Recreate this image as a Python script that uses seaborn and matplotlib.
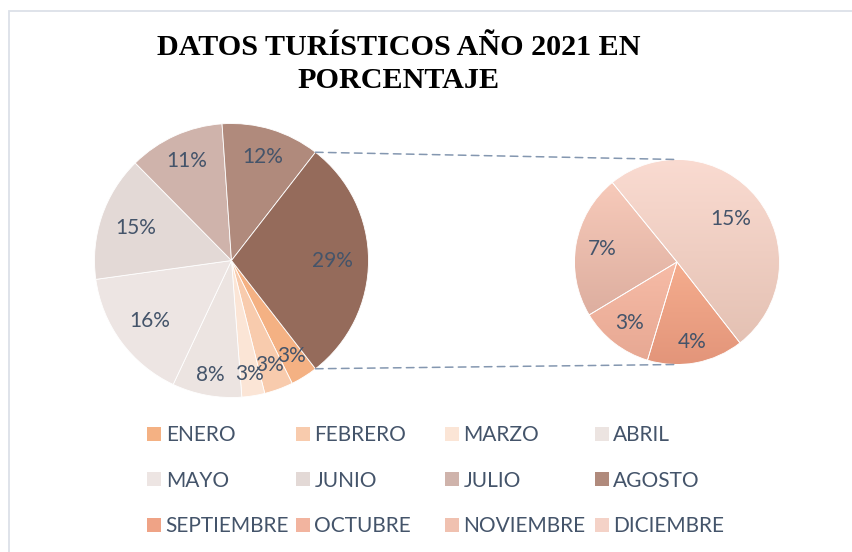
import numpy as np
import matplotlib
matplotlib.use("Agg")
import matplotlib.pyplot as plt
import seaborn as sns
from matplotlib.patches import Patch, Rectangle, ConnectionPatch
from matplotlib.colors import to_rgb

# ---------------- data ----------------
months_main = ["ENERO", "FEBRERO", "MARZO", "ABRIL", "MAYO", "JUNIO", "JULIO", "AGOSTO"]
values_main = [3.2, 3.4, 2.7, 8.2, 15.8, 14.8, 11.3, 11.6]
months_sub = ["SEPTIEMBRE", "OCTUBRE", "NOVIEMBRE", "DICIEMBRE"]
values_sub = [4.4, 3.4, 6.6, 14.6]
title_lines = ["DATOS TURÍSTICOS AÑO 2021 EN", "PORCENTAJE"]

# ---------------- style ----------------
colors_main = ["#F4B183", "#F8CBAD", "#FBE5D6", "#ECE4E1", "#EDE5E3", "#E3D9D6", "#CFB3AB", "#B08A7C"]
color_other = "#956B5B"
grad_sub = [("#F5AD8E", "#E3957A"), ("#F7BCA7", "#E7A893"),
            ("#F7CABA", "#DDAE9F"), ("#FADBD1", "#E4C1B3")]
legend_sub = ["#EFA386", "#F2B49F", "#F0C1B0", "#F4D2C7"]
dist_main = [0.82, 0.81, 0.84, 0.85, 0.74, 0.74, 0.80, 0.79, 0.74]
dist_sub = [0.79, 0.75, 0.74, 0.67]
TXT = "#44546A"

sns.set_theme(style="white")
plt.rcParams["font.family"] = ["Lato", "DejaVu Sans"]

W, H = 852, 552
fig = plt.figure(figsize=(W / 100, H / 100), dpi=100)
fig.patch.set_facecolor("white")

# chart-area border
fig.add_artist(Rectangle((9 / W, -0.1), 1.2, (H - 11) / H + 0.1, transform=fig.transFigure,
                         fill=False, edgecolor="#DCE1E8", lw=1.3))


def pie_axes(cx, cy, r):
    return fig.add_axes([(cx - r) / W, (H - cy - r) / H, 2 * r / W, 2 * r / H])


ax1 = pie_axes(231.5, 260.5, 137)
ax2 = pie_axes(677, 262, 102.5)

other_val = sum(values_sub)
total = sum(values_main) + other_val
start1 = -other_val / total * 180.0

wedges1, _ = ax1.pie(values_main + [other_val], colors=colors_main + [color_other],
                     startangle=start1, counterclock=False, radius=1,
                     wedgeprops=dict(edgecolor="white", linewidth=0.6))
labels1 = [f"{v:.0f}%" for v in values_main] + [f"{other_val:.0f}%"]
for w, lab, d in zip(wedges1, labels1, dist_main):
    a = np.deg2rad((w.theta1 + w.theta2) / 2)
    ax1.text(d * np.cos(a), d * np.sin(a), lab, ha="center", va="center",
             fontsize=15, color=TXT)

start2 = -52.1
wedges2, _ = ax2.pie(values_sub, colors=[g[0] for g in grad_sub], startangle=start2,
                     counterclock=False, radius=1,
                     wedgeprops=dict(edgecolor="white", linewidth=0.6))
for w, (top, bot) in zip(wedges2, grad_sub):
    ext = w.get_path().get_extents()
    t = np.linspace(0, 1, 256)[:, None, None]
    arr = (1 - t) * np.array(to_rgb(top))[None, None, :] + t * np.array(to_rgb(bot))[None, None, :]
    im = ax2.imshow(arr, extent=(ext.x0, ext.x1, ext.y0, ext.y1), origin="upper",
                    aspect="auto", zorder=w.get_zorder() - 0.05, interpolation="bilinear")
    im.set_clip_path(w)
    w.set_facecolor("none")
for w, v, d in zip(wedges2, values_sub, dist_sub):
    a = np.deg2rad((w.theta1 + w.theta2) / 2)
    ax2.text(d * np.cos(a), d * np.sin(a), f"{v:.0f}%", ha="center", va="center",
             fontsize=15, color=TXT)

for ax in (ax1, ax2):
    ax.set_xlim(-1, 1)
    ax.set_ylim(-1, 1)
    ax.set_axis_off()

# connector lines
ang = np.deg2rad(-start1)
for sgn in (1, -1):
    con = ConnectionPatch(xyA=(np.cos(ang), sgn * np.sin(ang)), coordsA=ax1.transData,
                          xyB=(0, sgn * 1.0), coordsB=ax2.transData,
                          color="#8497B0", lw=1.1, linestyle=(0, (5, 3.5)))
    fig.add_artist(con)

# title
fig.text(399 / W, 1 - 64 / H, "\n".join(title_lines), ha="center", va="center",
         fontsize=21.7, fontweight="bold", family=["Liberation Serif", "DejaVu Serif"],
         color="black", linespacing=1.32)

# legend: 4 columns x 3 rows (row-wise order)
all_labels = months_main + months_sub
all_colors = colors_main + legend_sub
col_x = [147.3, 296, 445, 595]
for c in range(4):
    idx = [c, c + 4, c + 8]
    handles = [Patch(facecolor=all_colors[i], edgecolor="none") for i in idx]
    labs = [all_labels[i] for i in idx]
    fig.legend(handles, labs, loc="upper left", bbox_to_anchor=(col_x[c] / W, 1 - 425 / H),
               frameon=False, fontsize=15, labelcolor=TXT, handlelength=0.68,
               handleheight=0.68, handletextpad=0.2, labelspacing=1.23,
               borderpad=0, borderaxespad=0)

fig.savefig("out.png", dpi=100, facecolor="white")
